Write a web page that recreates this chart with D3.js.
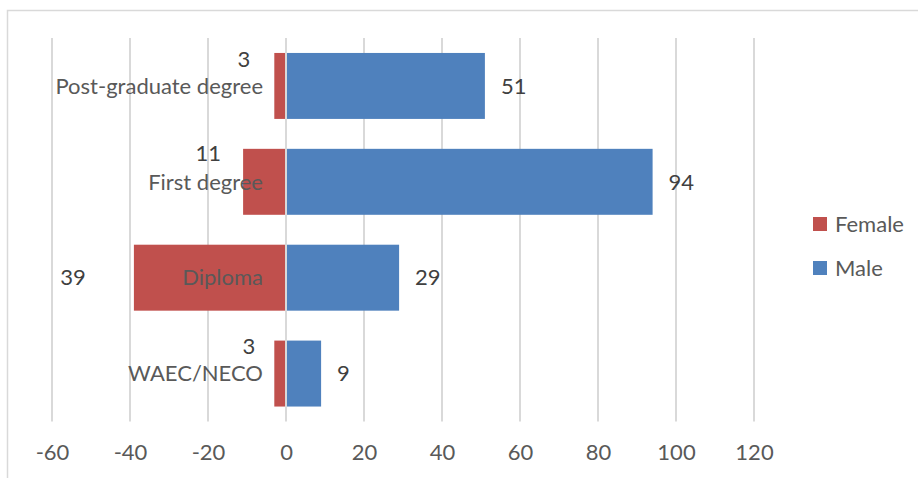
<!DOCTYPE html>
<html>
<head>
<meta charset="utf-8">
<script src="https://cdn.jsdelivr.net/npm/d3@7"></script>
<style>
  html, body { margin: 0; padding: 0; background: #fff; }
  svg { display: block; font-family: Lato, "Liberation Sans", sans-serif; }
</style>
</head>
<body>
<div id="chart"></div>
<script>
"use strict";

var categories = ["Post-graduate degree", "First degree", "Diploma", "WAEC/NECO"];
var female = [3, 11, 39, 3];
var male = [51, 94, 29, 9];
var xTicks = [-60, -40, -20, 0, 20, 40, 60, 80, 100, 120];
var seriesNames = ["Female", "Male"];
var colors = { Female: "#c0504d", Male: "#4f81bd" };

// hand-placed female labels in the original (dx left of bar end, dy from band centre)
var femaleNudge = [[24, -27], [22, -29], [48, 0], [19, -27]];

var width = 918, height = 478;
var fontSize = 22;

var svg = d3
  .select("#chart")
  .append("svg")
  .attr("width", width)
  .attr("height", height);

// chart frame (runs off the right and bottom edge)
svg
  .append("rect")
  .attr("x", 7.5)
  .attr("y", 10.5)
  .attr("width", 930)
  .attr("height", 500)
  .attr("fill", "none")
  .attr("stroke", "#d9d9d9")
  .attr("stroke-width", 1.5);

var x = d3.scaleLinear().domain([-60, 120]).range([52, 754]);
var y = d3
  .scaleBand()
  .domain(categories)
  .range([38, 421.5])
  .paddingInner(0.312)
  .paddingOuter(0.156);

// gridlines
svg
  .append("g")
  .selectAll("line")
  .data(xTicks)
  .enter()
  .append("line")
  .attr("x1", function(d) { return x(d); })
  .attr("x2", function(d) { return x(d); })
  .attr("y1", 38)
  .attr("y2", 421.5)
  .attr("stroke", "#d9d9d9")
  .attr("stroke-width", 2);

// bars
var rows = categories.map(function(c, i) {
  return { cat: c, f: female[i], m: male[i], i: i };
});

svg
  .append("g")
  .selectAll("rect")
  .data(rows)
  .enter()
  .append("rect")
  .attr("x", function(d) { return x(-d.f); })
  .attr("width", function(d) { return x(0) - x(-d.f) - 1; })
  .attr("y", function(d) { return y(d.cat); })
  .attr("height", y.bandwidth())
  .attr("fill", colors.Female);

svg
  .append("g")
  .selectAll("rect")
  .data(rows)
  .enter()
  .append("rect")
  .attr("x", x(0) + 1)
  .attr("width", function(d) { return x(d.m) - x(0) - 1; })
  .attr("y", function(d) { return y(d.cat); })
  .attr("height", y.bandwidth())
  .attr("fill", colors.Male);

// category labels beside the zero line
svg
  .append("g")
  .selectAll("text")
  .data(rows)
  .enter()
  .append("text")
  .attr("x", x(0) - 23)
  .attr("y", function(d) { return y(d.cat) + y.bandwidth() / 2; })
  .attr("dy", "0.35em")
  .attr("text-anchor", "end")
  .attr("font-size", fontSize)
  .attr("fill", "#595959")
  .text(function(d) { return d.cat; });

// data labels
svg
  .append("g")
  .selectAll("text")
  .data(rows)
  .enter()
  .append("text")
  .attr("x", function(d) { return x(d.m) + 16; })
  .attr("y", function(d) { return y(d.cat) + y.bandwidth() / 2; })
  .attr("dy", "0.35em")
  .attr("font-size", fontSize)
  .attr("fill", "#404040")
  .text(function(d) { return d.m; });

svg
  .append("g")
  .selectAll("text")
  .data(rows)
  .enter()
  .append("text")
  .attr("x", function(d) { return x(-d.f) - femaleNudge[d.i][0]; })
  .attr("y", function(d) { return y(d.cat) + y.bandwidth() / 2 + femaleNudge[d.i][1]; })
  .attr("dy", "0.35em")
  .attr("text-anchor", "end")
  .attr("font-size", fontSize)
  .attr("fill", "#404040")
  .text(function(d) { return d.f; });

// x axis labels
var axis = svg
  .append("g")
  .attr("transform", "translate(0,421.5)")
  .call(
    d3.axisBottom(x)
      .tickValues(xTicks)
      .tickSize(0)
      .tickPadding(23)
      .tickFormat(function(d) { return String(d); })
  );
axis.select(".domain").remove();
axis
  .selectAll("text")
  .attr("font-family", "Lato, 'Liberation Sans', sans-serif")
  .attr("font-size", fontSize)
  .attr("fill", "#595959");

// legend
var legend = svg
  .append("g")
  .selectAll("g")
  .data(seriesNames)
  .enter()
  .append("g")
  .attr("transform", function(d, i) { return "translate(813," + (217 + i * 44) + ")"; });

legend
  .append("rect")
  .attr("width", 14)
  .attr("height", 14)
  .attr("fill", function(d) { return colors[d]; });

legend
  .append("text")
  .attr("x", 22)
  .attr("y", 7)
  .attr("dy", "0.35em")
  .attr("font-size", fontSize)
  .attr("fill", "#595959")
  .text(function(d) { return d; });
</script>
</body>
</html>
